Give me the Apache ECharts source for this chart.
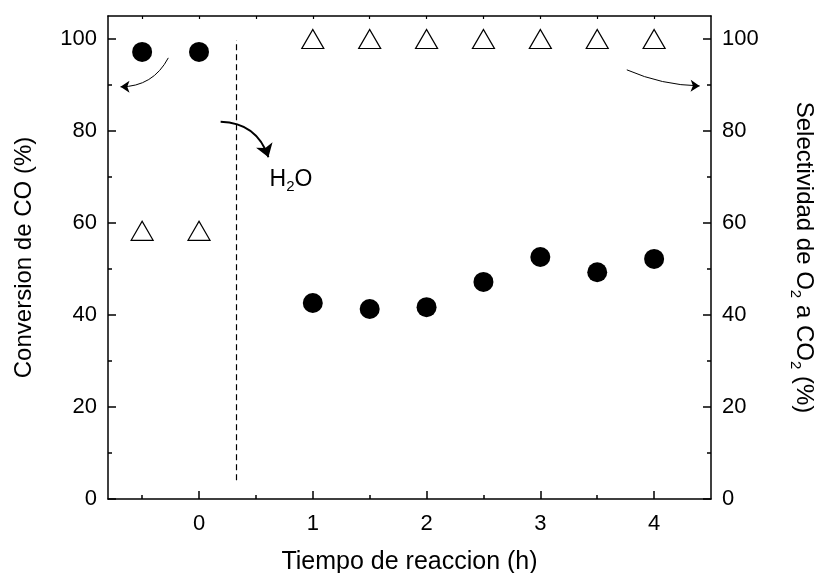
<!DOCTYPE html>
<html>
<head>
<meta charset="utf-8">
<script src="https://cdn.jsdelivr.net/npm/echarts@6/dist/echarts.min.js"></script>
<style>
  html, body { margin: 0; padding: 0; background: #fff; }
  #chart { width: 817px; height: 573px; }
</style>
</head>
<body>
<div id="chart"></div>
<script>
// Reaction time (h) and the two measured quantities
const timeH = [-0.5, 0, 1, 1.5, 2, 2.5, 3, 3.5, 4];
const conversionCO = [97.2, 97.2, 42.6, 41.3, 41.7, 47.2, 52.6, 49.3, 52.2];
const selectivityO2 = [58.3, 58.3, 100, 100, 100, 100, 100, 100, 100];

// Axis ranges and tick positions
const xRange = [-0.8, 4.5];
const yRange = [0, 105];
const xMajorTicks = [0, 1, 2, 3, 4];
const xMinorTicks = [-0.5, 0.5, 1.5, 2.5, 3.5];
const xTopTicks = [-0.5, 0, 0.5, 1, 1.5, 2, 2.5, 3, 3.5, 4];
const yMajorTicks = [0, 20, 40, 60, 80, 100];
const yMinorTicks = [10, 30, 50, 70, 90];

// Water addition marker (time) and annotation arrows [from, to] in data units
const waterTime = 0.33;
const waterSpan = [4.1, 99.8];
const arrowLeft = [[-0.27, 95.9], [-0.69, 89.6]];
const arrowRight = [[3.76, 93.3], [4.40, 89.8]];
const arrowWater = [[0.19, 82.0], [0.61, 74.3]];
const waterLabelAt = [0.62, 69.5];

const FONT = 'Liberation Sans, Arial, sans-serif';
const ink = '#000';

const pairs = timeH.map((t, i) => [t, conversionCO[i]]);
const pairsSel = timeH.map((t, i) => [t, selectivityO2[i]]);

function xAxisDef(extra) {
  return Object.assign({
    type: 'value', min: xRange[0], max: xRange[1], gridIndex: 0,
    splitLine: { show: false },
    axisLine: { show: false, onZero: false },
    axisLabel: { show: false },
    axisTick: { show: false }
  }, extra);
}
function yAxisDef(extra) {
  return Object.assign({
    type: 'value', min: yRange[0], max: yRange[1], gridIndex: 0,
    splitLine: { show: false },
    axisLine: { show: false, onZero: false },
    axisLabel: { show: false },
    axisTick: { show: false }
  }, extra);
}
const axisLineOn = { show: true, onZero: false, lineStyle: { color: ink, width: 1.5 } };
function ticksOnly(values, len, width) {
  return { show: true, inside: true, length: len, customValues: values, lineStyle: { color: ink, width: width || 1.5 } };
}

const chart = echarts.init(document.getElementById('chart'), null, { renderer: 'canvas' });

const option = {
  backgroundColor: '#fff',
  animation: false,
  textStyle: { fontFamily: FONT, color: ink },
  grid: { left: 108, right: 106, top: 16, bottom: 74, containLabel: false, outerBoundsMode: 'none' },
  xAxis: [
    // bottom axis: line, labels and title
    xAxisDef({
      position: 'bottom',
      name: 'Tiempo de reaccion (h)',
      nameLocation: 'middle', nameGap: 51,
      nameTextStyle: { fontFamily: FONT, fontSize: 25, color: ink },
      axisLine: axisLineOn,
      axisLabel: { show: true, customValues: xMajorTicks, margin: 14, fontFamily: FONT, fontSize: 22, color: ink }
    }),
    // bottom major / minor ticks
    xAxisDef({ position: 'bottom', axisTick: ticksOnly(xMajorTicks, 8) }),
    xAxisDef({ position: 'bottom', axisTick: ticksOnly(xMinorTicks, 4) }),
    // top frame with short ticks
    xAxisDef({ position: 'top', axisLine: axisLineOn, axisTick: ticksOnly(xTopTicks, 3, 1.2) })
  ],
  yAxis: [
    // left axis: conversion
    yAxisDef({
      position: 'left',
      name: 'Conversion de CO (%)',
      nameLocation: 'middle', nameGap: 72, nameRotate: 90,
      nameTextStyle: { fontFamily: FONT, fontSize: 24, color: ink },
      axisLine: axisLineOn,
      axisLabel: { show: true, customValues: yMajorTicks, margin: 11, fontFamily: FONT, fontSize: 22, color: ink }
    }),
    yAxisDef({ position: 'left', axisTick: ticksOnly(yMajorTicks, 8) }),
    yAxisDef({ position: 'left', axisTick: ticksOnly(yMinorTicks, 4) }),
    // right axis: selectivity
    yAxisDef({
      position: 'right',
      name: 'Selectividad de O{sub|2} a CO{sub|2} (%)',
      nameLocation: 'middle', nameGap: 77, nameRotate: -90,
      nameTextStyle: {
        fontFamily: FONT, fontSize: 24, color: ink, lineHeight: 32,
        rich: { sub: { fontFamily: FONT, fontSize: 15, lineHeight: 15, verticalAlign: 'bottom', color: ink } }
      },
      axisLine: axisLineOn,
      axisLabel: { show: true, customValues: yMajorTicks, margin: 11, fontFamily: FONT, fontSize: 22, color: ink }
    }),
    yAxisDef({ position: 'right', axisTick: ticksOnly(yMajorTicks, 8) }),
    yAxisDef({ position: 'right', axisTick: ticksOnly(yMinorTicks, 4) })
  ],
  series: [
    {
      name: 'Conversion de CO',
      type: 'scatter',
      xAxisIndex: 0, yAxisIndex: 0,
      data: pairs,
      symbol: 'circle', symbolSize: 20,
      itemStyle: { color: ink, opacity: 1 },
      z: 5,
      markPoint: {
        silent: true,
        symbol: 'circle', symbolSize: 0,
        data: [{
          coord: waterLabelAt,
          label: {
            show: true, position: 'right', distance: 0,
            formatter: 'H{sub|2}O',
            fontFamily: FONT, fontSize: 23, color: ink, lineHeight: 30,
            rich: { sub: { fontFamily: FONT, fontSize: 15, lineHeight: 15, verticalAlign: 'bottom', color: ink } }
          }
        }]
      }
    },
    {
      name: 'Selectividad de O2 a CO2',
      type: 'scatter',
      xAxisIndex: 0, yAxisIndex: 3,
      data: pairsSel,
      symbol: 'triangle', symbolSize: [22, 19],
      itemStyle: { color: '#fff', borderColor: ink, borderWidth: 1.2, opacity: 1 },
      z: 4
    },
    {
      // water addition: vertical dashed line
      type: 'lines',
      coordinateSystem: 'cartesian2d',
      xAxisIndex: 0, yAxisIndex: 0,
      silent: true,
      symbol: ['none', 'none'],
      lineStyle: { color: ink, width: 1.2, type: [6, 4], opacity: 1 },
      data: [{ coords: [[waterTime, waterSpan[0]], [waterTime, waterSpan[1]]] }]
    },
    {
      // thin arrows pointing to the axis each series belongs to
      type: 'lines',
      coordinateSystem: 'cartesian2d',
      xAxisIndex: 0, yAxisIndex: 0,
      silent: true,
      symbol: ['none', 'arrow'],
      symbolSize: 9,
      lineStyle: { color: ink, width: 1, opacity: 1 },
      data: [
        { coords: arrowLeft, lineStyle: { curveness: 0.3 } },
        { coords: arrowRight, lineStyle: { curveness: -0.1 } }
      ]
    },
    {
      // water addition arrow
      type: 'lines',
      coordinateSystem: 'cartesian2d',
      xAxisIndex: 0, yAxisIndex: 0,
      silent: true,
      symbol: ['none', 'arrow'],
      symbolSize: 13,
      lineStyle: { color: ink, width: 2, opacity: 1 },
      data: [{ coords: arrowWater, lineStyle: { curveness: 0.35 } }]
    }
  ]
};

chart.setOption(option);
</script>
</body>
</html>
